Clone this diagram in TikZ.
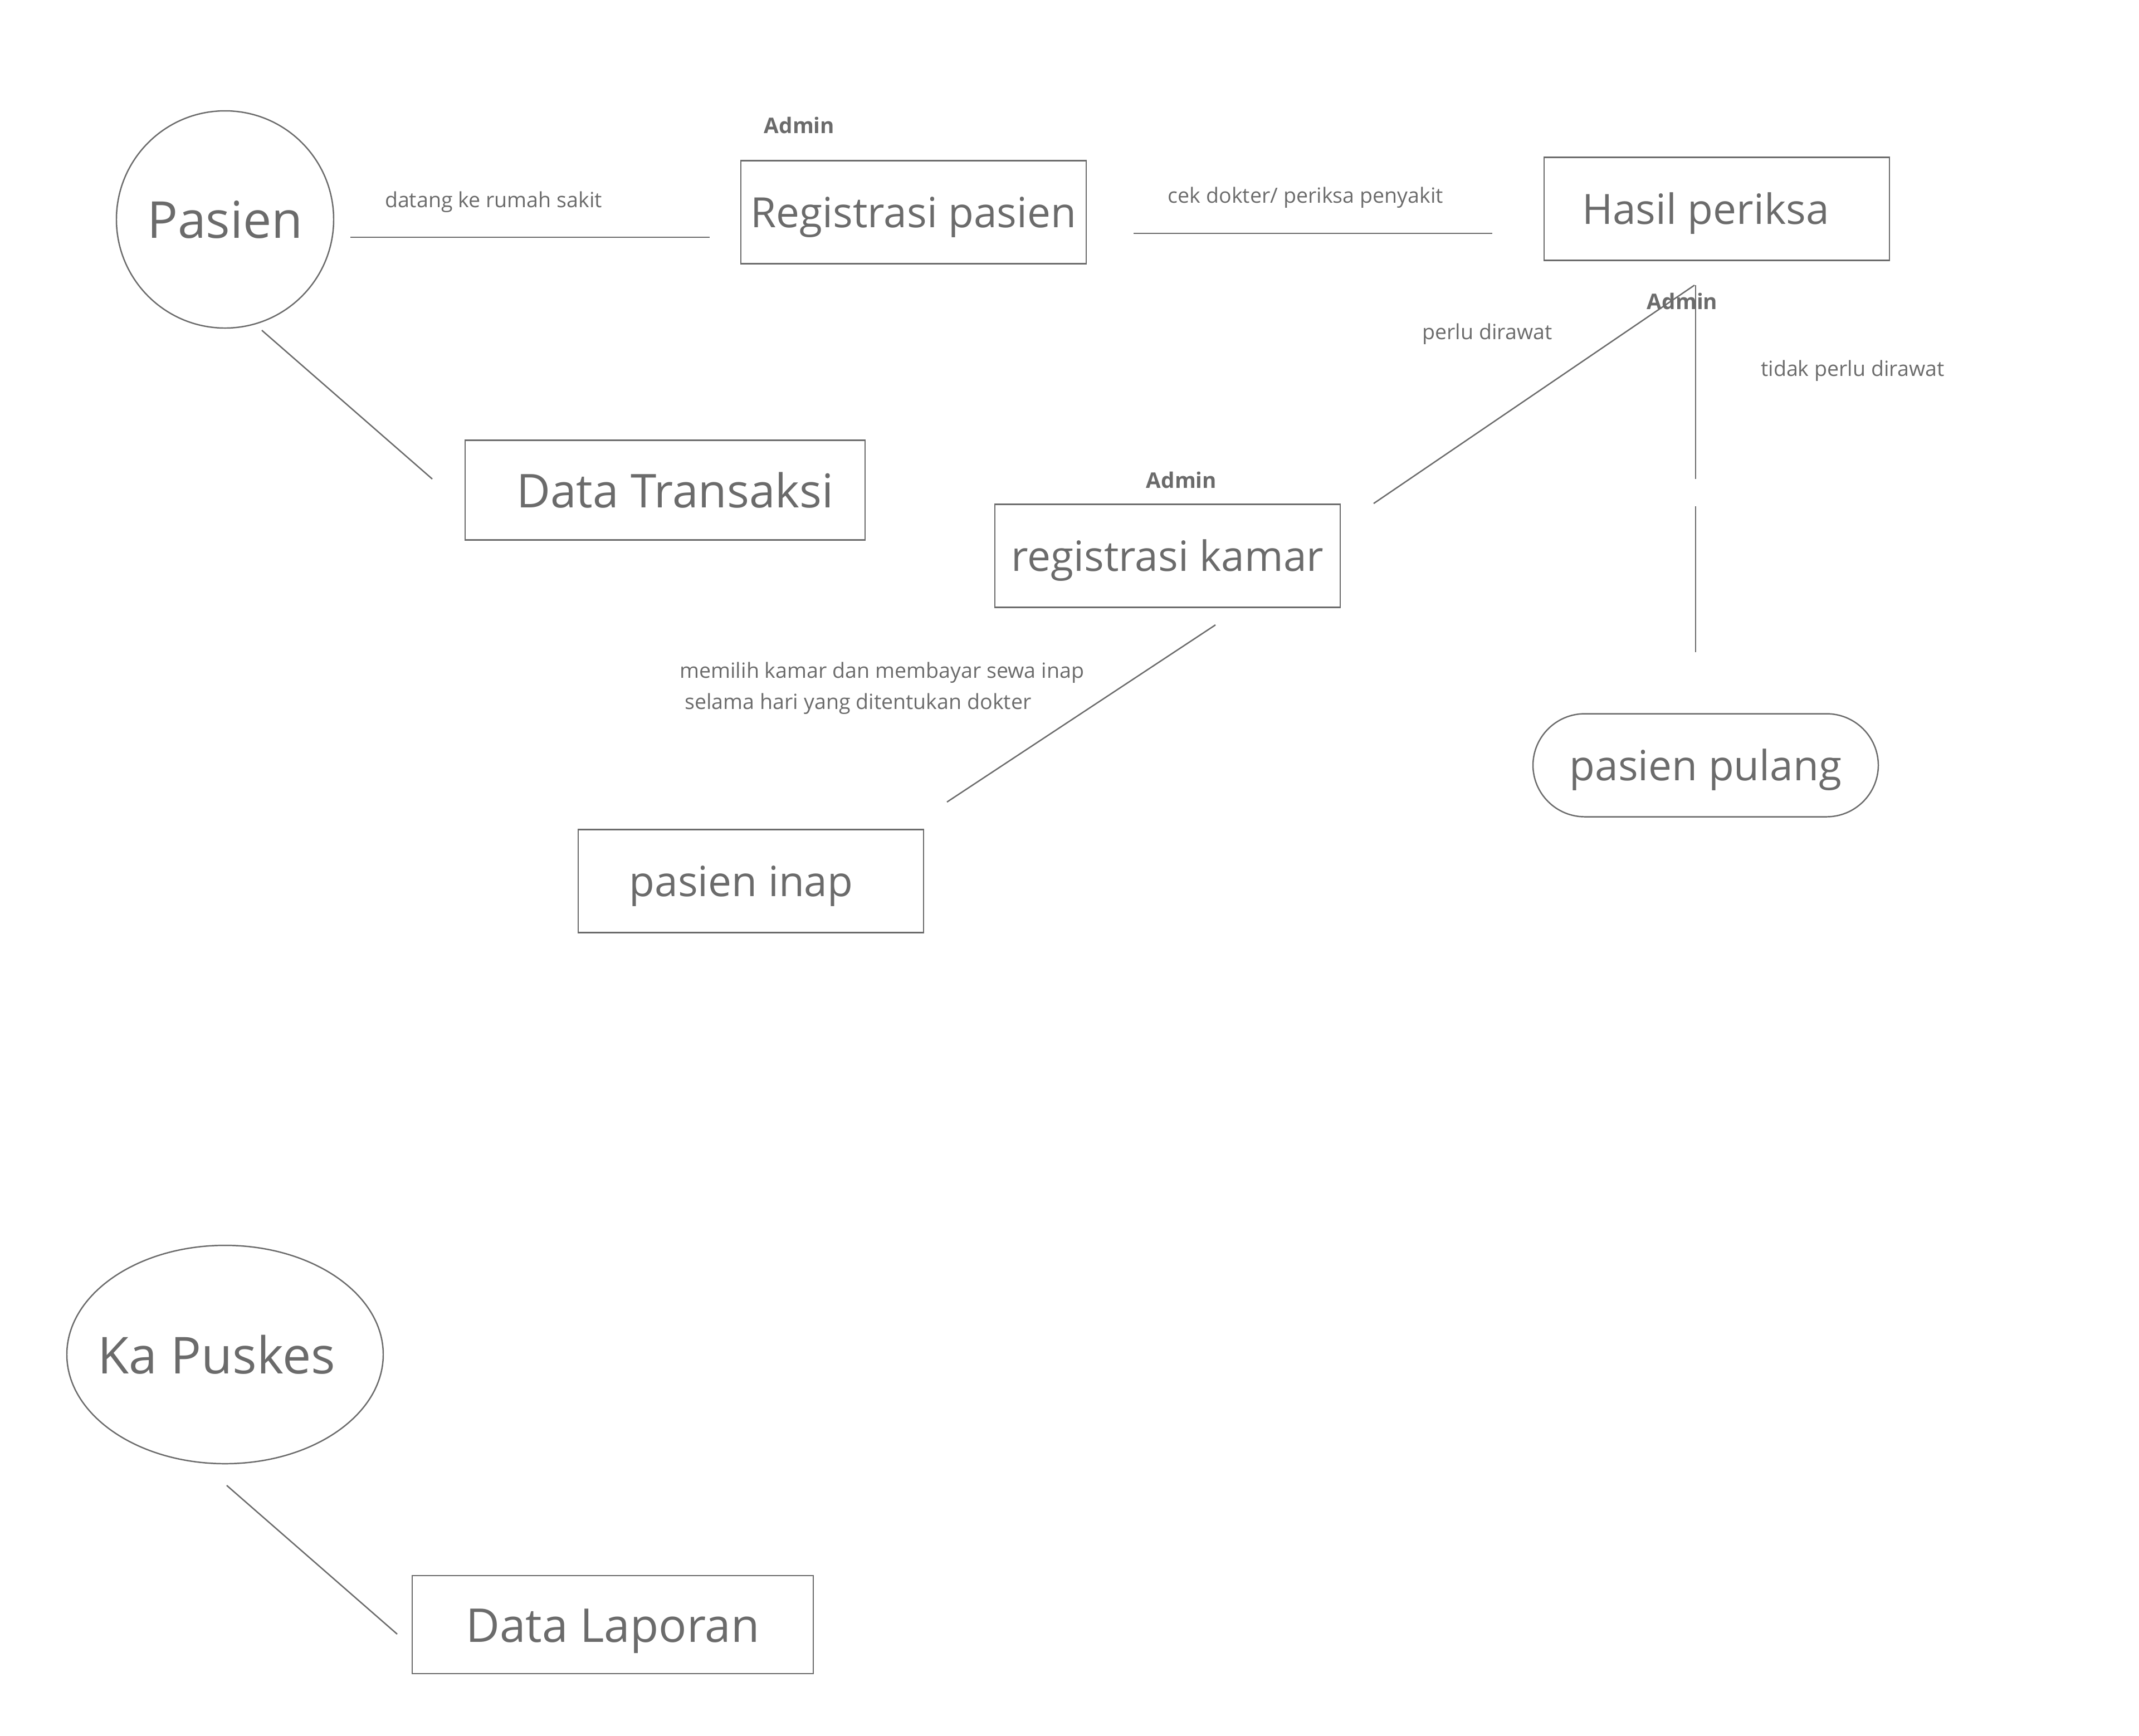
\documentclass[tikz,border=0pt]{standalone}
\usepackage{fontspec}
\setmainfont{Open Sans}
\usetikzlibrary{shapes.geometric}

\definecolor{abu}{HTML}{6B6B6B}

\tikzset{
  kotak/.style={draw=abu, line width=0.7pt, rectangle, minimum width=6.2cm, minimum height=1.85cm, text=abu, text height=0.72cm, text depth=0.18cm, font=\fontsize{21.3}{26}\selectfont},
  kotakdata/.style={kotak, text height=0.78cm, text depth=0.16cm, font=\fontsize{23.8}{28}\selectfont},
  aktor/.style={draw=abu, line width=0.7pt, inner sep=0pt, text=abu, font=\fontsize{26}{30}\selectfont},
  ket/.style={text=abu, font=\fontsize{10.7}{16}\selectfont},
  admin/.style={text=abu, font=\bfseries\fontsize{11}{14}\selectfont},
  garis/.style={draw=abu, line width=0.7pt}
}

\begin{document}
\begin{tikzpicture}

\useasboundingbox (0,0) rectangle (38.40,-31.16);

\node[aktor, circle, minimum size=3.9cm] (pasien) at (4.04,-3.94) {Pasien};

\node[kotak] (regpasien) at (16.40,-3.81) {Registrasi pasien};

\node[kotak] (hasil) at (30.82,-3.75) {\hspace{-0.4cm}Hasil periksa};

\node[kotakdata, minimum width=7.18cm, minimum height=1.79cm] (datatrans) at (11.94,-8.80) {\hspace{0.36cm}Data Transaksi};

\node[kotak] (regkamar) at (20.96,-9.98) {registrasi kamar};

\node[kotak] (inap) at (13.48,-15.82) {\hspace{-0.35cm}pasien inap};

\node[kotak, rounded corners=0.93cm] (pulang) at (30.62,-13.74) {pasien pulang};

\node[aktor, ellipse, minimum width=5.68cm, minimum height=3.92cm] (kapuskes) at (4.04,-24.32) {\makebox[0pt]{\hspace{-0.3cm}Ka Puskes}};

\node[kotakdata, minimum width=7.2cm, minimum height=1.76cm] (laporan) at (11.00,-29.17) {Data Laporan};

% keterangan
\node[admin] (admin1) at (14.35,-2.25) {Admin};
\node[admin] (admin2) at (30.20,-5.41) {Admin};
\node[admin] (admin3) at (21.21,-8.62) {Admin};

\node[ket] (datang) at (8.86,-3.63) {datang ke rumah sakit};
\node[ket] (cek) at (23.44,-3.55) {cek dokter/ periksa penyakit};
\node[ket] (perlu) at (26.70,-6.00) {perlu dirawat};
\node[ket] (tidak) at (33.26,-6.66) {tidak perlu dirawat};
\node[ket, align=left, anchor=west] (memilih) at (12.08,-12.36) {memilih kamar dan membayar sewa inap\\\hspace{0.09cm}selama hari yang ditentukan dokter};

% ujung garis
\coordinate (p1) at (6.29,-4.26);
\coordinate (p2) at (12.74,-4.26);
\coordinate (r1) at (20.35,-4.19);
\coordinate (r2) at (26.79,-4.19);
\coordinate (t1) at (4.70,-5.93);
\coordinate (t2) at (7.76,-8.60);
\coordinate (h1) at (30.42,-5.12);
\coordinate (h2) at (24.66,-9.04);
\coordinate (v1) at (30.44,-5.12);
\coordinate (v2) at (30.44,-8.60);
\coordinate (v3) at (30.44,-9.09);
\coordinate (v4) at (30.44,-11.71);
\coordinate (k1) at (21.82,-11.22);
\coordinate (k2) at (17.00,-14.40);
\coordinate (l1) at (4.07,-26.67);
\coordinate (l2) at (7.13,-29.34);

\draw[garis] (p1) -- (p2);
\draw[garis] (r1) -- (r2);
\draw[garis] (t1) -- (t2);
\draw[garis] (h1) -- (h2);
\draw[garis] (v1) -- (v2);
\draw[garis] (v3) -- (v4);
\draw[garis] (k1) -- (k2);
\draw[garis] (l1) -- (l2);

\end{tikzpicture}
\end{document}
